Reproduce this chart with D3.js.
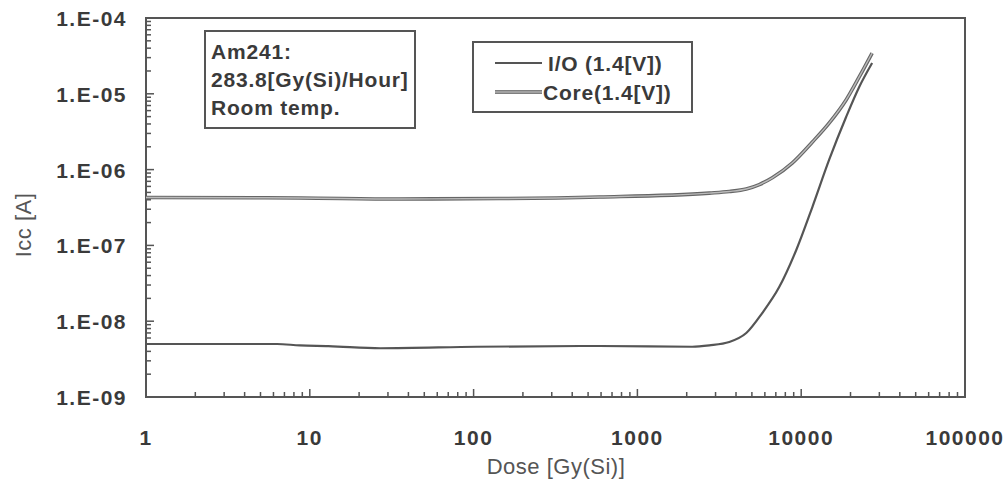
<!DOCTYPE html>
<html lang='en'>
<head>
  <meta charset='UTF-8'>
  <title>Icc vs Dose</title>
  <style>
  body { margin: 0; background: #fff; }
  text { font-family: 'Liberation Sans', Arial, sans-serif; fill: #3a3a3a; }
  .tick-label { font-size: 21px; font-weight: bold; letter-spacing: 1.5px; }
  .title { font-size: 22px; fill: #555; letter-spacing: 0.5px; }
  .note { font-size: 21px; font-weight: bold; letter-spacing: 0.8px; }
  </style>
  <script src="https://d3js.org/d3.v7.min.js"></script>
</head>
<body>
  <script>

  // data
  var doseCore = [1, 8.7, 35, 144, 587, 2750, 3640, 4620, 5550, 6660, 8810, 11700, 14800, 18800, 22600, 27100];
  var iccCore = [4.28e-7, 4.22e-7, 4.1e-7, 4.15e-7, 4.35e-7, 4.9e-7, 5.14e-7, 5.55e-7, 6.35e-7, 7.8e-7, 1.22e-6, 2.31e-6, 4.1e-6, 8.3e-6, 1.67e-5, 3.45e-5];

  var doseIO = [1, 6.3, 8.7, 13, 27, 105, 587, 2160, 2750, 3640, 4620, 5780, 7340, 9330, 11700, 14800, 18800, 22600, 27100];
  var iccIO = [5.0e-9, 5.0e-9, 4.79e-9, 4.7e-9, 4.4e-9, 4.6e-9, 4.71e-9, 4.6e-9, 4.8e-9, 5.32e-9, 6.98e-9, 1.28e-8, 2.82e-8, 8.7e-8, 3.21e-7, 1.34e-6, 4.94e-6, 1.23e-5, 2.55e-5];

  var xTicks = [1, 10, 100, 1000, 10000, 100000];
  var yTicks = [1e-9, 1e-8, 1e-7, 1e-6, 1e-5, 1e-4];
  var legendLabels = ['I/O (1.4[V])', 'Core(1.4[V])'];
  var noteLines = ['Am241:', '283.8[Gy(Si)/Hour]', 'Room temp.'];

  var svg = d3.select('body').append('svg').attr('width', 1008).attr('height', 495);

  var x = d3.scaleLog().domain([1, 1e5]).range([146, 965]);
  var y = d3.scaleLog().domain([1e-9, 1e-4]).range([397, 18]);

  // minor ticks, pointing inward
  var minorX = [];
  var minorY = [];
  d3.range(0, 5).forEach(function (e) {
    d3.range(1, 10).forEach(function (m) {
      minorX.push({ v: m * Math.pow(10, e), major: m === 1 });
    });
  });
  d3.range(-9, -4).forEach(function (e) {
    d3.range(1, 10).forEach(function (m) {
      minorY.push({ v: m * Math.pow(10, e), major: m === 1 });
    });
  });

  svg.selectAll('.xt')
     .data(minorX)
     .enter()
     .append('line')
     .attr('x1', function (d) { return x(d.v); })
     .attr('x2', function (d) { return x(d.v); })
     .attr('y1', 397)
     .attr('y2', function (d) { return d.major ? 389 : 392; })
     .attr('stroke', '#555')
     .attr('stroke-width', 1.5);

  svg.selectAll('.yt')
     .data(minorY)
     .enter()
     .append('line')
     .attr('x1', 146)
     .attr('x2', function (d) { return d.major ? 154 : 151; })
     .attr('y1', function (d) { return y(d.v); })
     .attr('y2', function (d) { return y(d.v); })
     .attr('stroke', '#555')
     .attr('stroke-width', 1.5);

  // frame
  svg.append('rect')
     .attr('x', 146).attr('y', 18)
     .attr('width', 965 - 146).attr('height', 397 - 18)
     .attr('fill', 'none')
     .attr('stroke', '#555')
     .attr('stroke-width', 2);

  // tick labels
  svg.selectAll('.xl')
     .data(xTicks)
     .enter()
     .append('text')
     .attr('class', 'tick-label')
     .attr('x', function (d) { return x(d); })
     .attr('y', 445)
     .attr('text-anchor', 'middle')
     .text(function (d) { return String(d); });

  svg.selectAll('.yl')
     .data(yTicks)
     .enter()
     .append('text')
     .attr('class', 'tick-label')
     .attr('x', 127)
     .attr('y', function (d) { return y(d) + 8; })
     .attr('text-anchor', 'end')
     .text(function (d) {
       var e = Math.round(Math.log10(d));
       return '1.E-' + (e > -10 ? '0' : '') + Math.abs(e);
     });

  // axis titles
  svg.append('text')
     .attr('class', 'title')
     .attr('x', 556)
     .attr('y', 474)
     .attr('text-anchor', 'middle')
     .text('Dose [Gy(Si)]');

  svg.append('text')
     .attr('class', 'title')
     .attr('transform', 'translate(31,225) rotate(-90)')
     .attr('text-anchor', 'middle')
     .text('Icc [A]');

  // curves
  var line = d3.line()
    .x(function (d) { return x(d[0]); })
    .y(function (d) { return y(d[1]); })
    .curve(d3.curveMonotoneX);

  var core = d3.zip(doseCore, iccCore);
  var io = d3.zip(doseIO, iccIO);

  svg.append('path')
     .attr('d', line(io))
     .attr('fill', 'none')
     .attr('stroke', '#555')
     .attr('stroke-width', 2.2);

  svg.append('path')
     .attr('d', line(core))
     .attr('fill', 'none')
     .attr('stroke', '#666')
     .attr('stroke-width', 3.6);

  svg.append('path')
     .attr('d', line(core))
     .attr('fill', 'none')
     .attr('stroke', '#bbb')
     .attr('stroke-width', 1.4);

  // note box
  svg.append('rect')
     .attr('x', 205).attr('y', 31)
     .attr('width', 210).attr('height', 97)
     .attr('fill', '#fff')
     .attr('stroke', '#555')
     .attr('stroke-width', 2);

  svg.selectAll('.note')
     .data(noteLines)
     .enter()
     .append('text')
     .attr('class', 'note')
     .attr('x', 211)
     .attr('y', function (d, i) { return 59 + i * 28; })
     .text(function (d) { return d; });

  // legend
  svg.append('rect')
     .attr('x', 473).attr('y', 42)
     .attr('width', 219).attr('height', 70)
     .attr('fill', '#fff')
     .attr('stroke', '#555')
     .attr('stroke-width', 2);

  var legend = svg.selectAll('.legend')
    .data(legendLabels)
    .enter()
    .append('g')
    .attr('class', 'legend')
    .attr('transform', function (d, i) { return 'translate(495,' + (63 + i * 29) + ')'; });

  legend.append('line')
        .attr('x1', 0).attr('x2', 47)
        .attr('stroke', '#555')
        .attr('stroke-width', function (d, i) { return i ? 3.6 : 2.2; });

  legend.filter(function (d, i) { return i === 1; })
        .append('line')
        .attr('x1', 0).attr('x2', 47)
        .attr('stroke', '#bbb')
        .attr('stroke-width', 1.4);

  legend.append('text')
        .attr('class', 'note')
        .attr('x', function (d, i) { return i ? 48 : 53; })
        .attr('y', 8)
        .text(function (d) { return d; });
  </script>
</body>
</html>
